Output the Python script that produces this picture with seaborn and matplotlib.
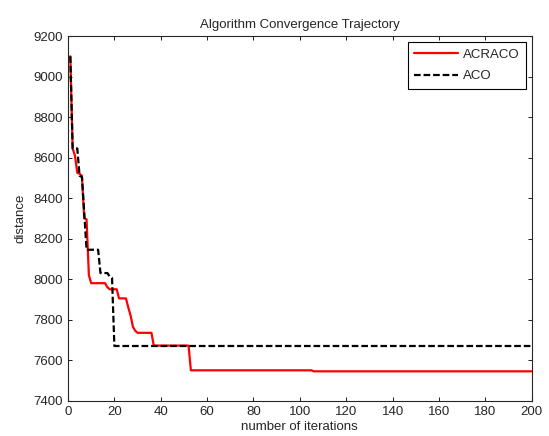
import pandas as pd
import numpy as np
import matplotlib
matplotlib.use("Agg")
import matplotlib.pyplot as plt
import seaborn as sns

# breakpoints (iteration, distance)
acraco_iter = [1, 2, 3, 4, 5, 6, 7, 8, 9, 10, 16, 17, 18, 21, 22, 25, 26, 27, 28, 29, 30,
               36, 37, 52, 53, 105, 106, 200]
acraco_dist = [9100, 8645, 8610, 8525, 8520, 8510, 8300, 8295, 8020, 7980, 7980, 7960, 7950,
               7950, 7905, 7905, 7860, 7820, 7765, 7745, 7735, 7735, 7672, 7672, 7550, 7550,
               7545, 7545]

aco_iter = [1, 2, 4, 5, 6, 7, 8, 13, 14, 17, 18, 19, 20, 200]
aco_dist = [9100, 8645, 8645, 8510, 8505, 8330, 8145, 8145, 8030, 8030, 8012, 8005, 7670, 7670]

series_names = ["ACRACO", "ACO"]
x_ticks = list(range(0, 201, 20))
y_ticks = list(range(7400, 9201, 200))

df = pd.concat([
    pd.DataFrame({"iter": acraco_iter, "dist": acraco_dist, "alg": "ACRACO"}),
    pd.DataFrame({"iter": aco_iter, "dist": aco_dist, "alg": "ACO"}),
])

sns.set_style("ticks")
plt.rcParams["font.family"] = ["Liberation Sans", "DejaVu Sans"]
plt.rcParams["xtick.direction"] = "in"
plt.rcParams["ytick.direction"] = "in"

fs = 9.5
fig, ax = plt.subplots(figsize=(5.49, 4.36), dpi=100)
fig.subplots_adjust(left=68/549, right=531.7/549, top=1-36/436, bottom=1-400.7/436)

sns.lineplot(data=df, x="iter", y="dist", hue="alg", style="alg",
             palette={"ACRACO": "#ff0000", "ACO": "black"},
             dashes={"ACRACO": "", "ACO": (3, 1.3)},
             hue_order=series_names, style_order=series_names,
             sort=False, estimator=None, linewidth=1.6, ax=ax)

ax.set_xlim(0, 200)
ax.set_ylim(7400, 9200)
ax.set_xticks(x_ticks)
ax.set_yticks(y_ticks)
ax.tick_params(top=True, right=True, length=3, width=0.75, labelsize=fs)
ax.tick_params(axis="x", pad=4)
ax.tick_params(axis="y", pad=3.5)
for s in ax.spines.values():
    s.set_visible(True)
    s.set_linewidth(0.8)

ax.set_title("Algorithm Convergence Trajectory", fontsize=fs, pad=6)
ax.set_xlabel("number of iterations", fontsize=fs, labelpad=2)
ax.set_ylabel("distance", fontsize=fs, labelpad=5)

handles, labels = ax.get_legend_handles_labels()
leg = ax.legend(handles, labels, loc="upper right", fontsize=fs, fancybox=False,
                edgecolor="black", framealpha=1, borderaxespad=0.45, handlelength=3.3,
                handletextpad=0.35, labelspacing=0.7, borderpad=0.5)
leg.get_frame().set_linewidth(0.8)

fig.savefig("out.png", dpi=100)
